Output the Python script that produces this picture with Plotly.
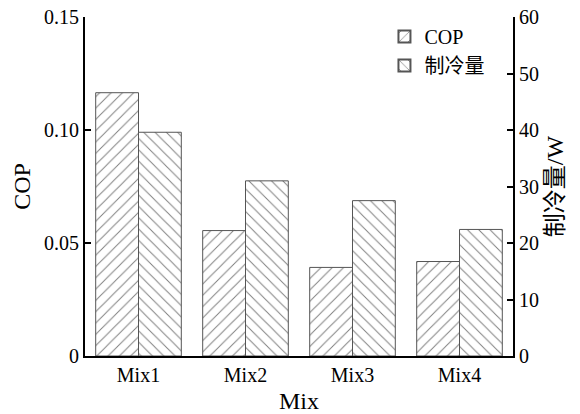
import plotly.graph_objects as go

categories = ["Mix1", "Mix2", "Mix3", "Mix4"]
cop_values = [0.1165, 0.0555, 0.0392, 0.0418]
cooling_values = [39.6, 31.0, 27.5, 22.4]

font_family = "Liberation Serif, Noto Sans CJK SC, serif"

fig = go.Figure()
fig.add_trace(go.Bar(
    x=categories, y=cop_values, name="COP", yaxis="y", offsetgroup="1",
    marker=dict(color="white", line=dict(color="#555", width=1),
                pattern=dict(shape="/", fgcolor="black", bgcolor="white", size=8, solidity=0.12)),
))
fig.add_trace(go.Bar(
    x=categories, y=cooling_values, name="制冷量", yaxis="y2", offsetgroup="2",
    marker=dict(color="white", line=dict(color="#555", width=1),
                pattern=dict(shape="\\", fgcolor="black", bgcolor="white", size=8, solidity=0.12)),
))

fig.update_layout(
    width=580, height=414,
    margin=dict(l=85, r=67, t=17, b=58),
    paper_bgcolor="white", plot_bgcolor="white",
    barmode="group", bargap=0.2, bargroupgap=0,
    font=dict(family=font_family, size=20, color="black"),
    showlegend=True,
    legend=dict(x=0.945, xanchor="right", y=1.0, yanchor="top",
                bgcolor="rgba(0,0,0,0)", font=dict(size=20), tracegroupgap=0,
                itemsizing="constant"),
    xaxis=dict(
        range=[-0.5, 3.5], showline=True, linecolor="black", linewidth=2,
        ticks="", showgrid=False, zeroline=False, automargin=False,
        title=dict(text="Mix", standoff=8),
    ),
    yaxis=dict(
        range=[0, 0.15], tickvals=[0, 0.05, 0.10, 0.15],
        ticktext=["0", "0.05", "0.10", "0.15"],
        showline=True, linecolor="black", linewidth=2,
        ticks="inside", ticklen=6, tickwidth=2, tickcolor="black",
        showgrid=False, zeroline=False, automargin=False,
        title=dict(text="COP", standoff=7),
    ),
    yaxis2=dict(
        range=[0, 60], tickvals=[0, 10, 20, 30, 40, 50, 60],
        overlaying="y", side="right",
        showline=True, linecolor="black", linewidth=2,
        ticks="inside", ticklen=6, tickwidth=2, tickcolor="black",
        showgrid=False, zeroline=False, automargin=False,
        title=dict(text="制冷量/W", standoff=8),
    ),
)

fig.write_html(
    "out.html",
    config={"displayModeBar": False},
    post_script="document.body.style.margin='0';document.body.style.overflow='hidden';",
)
